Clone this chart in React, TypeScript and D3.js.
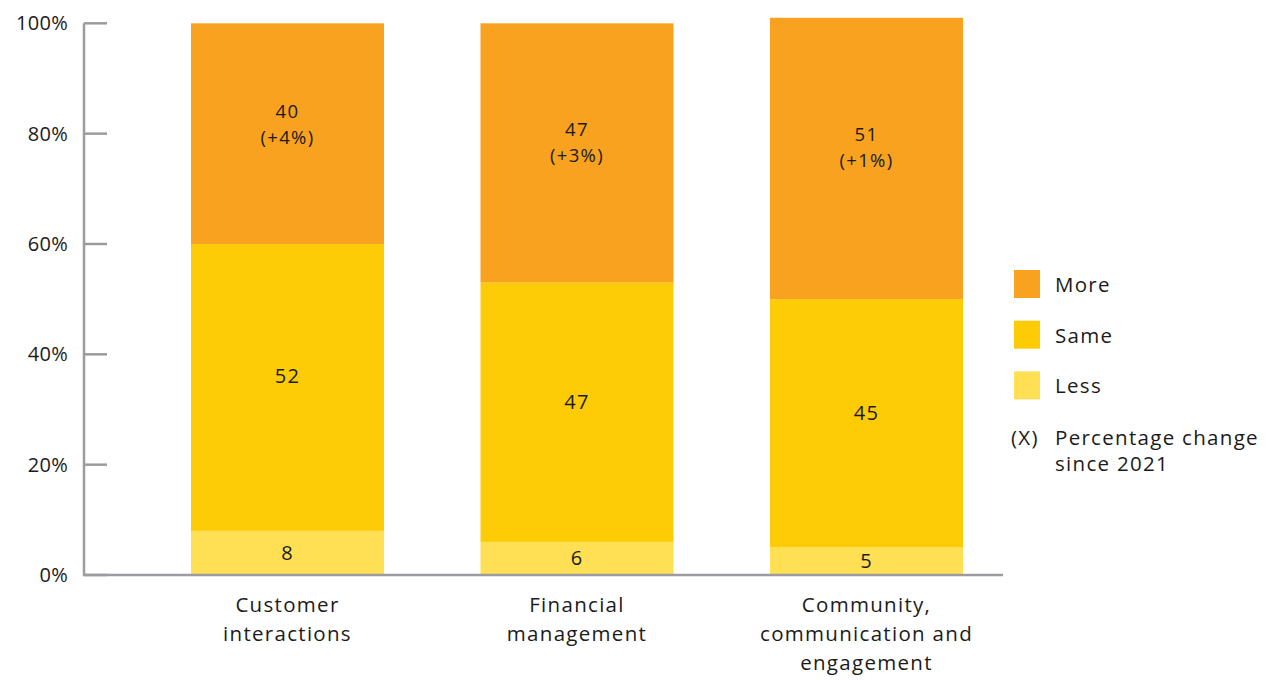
import * as d3 from 'd3'

const categories = [
  ['Customer', 'interactions'],
  ['Financial', 'management'],
  ['Community,', 'communication and', 'engagement'],
]
const lessValues = [8, 6, 5]
const sameValues = [52, 47, 45]
const moreValues = [40, 47, 51]
const moreChange = ['+4%', '+3%', '+1%']
const yTicks = [0, 20, 40, 60, 80, 100]
const seriesNames = ['More', 'Same', 'Less']

const colors: Record<string, string> = {
  More: '#F8A21F',
  Same: '#FECB07',
  Less: '#FFE055',
}

const W = 1272
const H = 680
const FONT = "'Open Sans', 'Noto Sans', sans-serif"
const TEXT = '#1b1b1b'
const AXIS = '#9c9ca0'
const LS = 1.3

export default function App() {
  const y = d3.scaleLinear().domain([0, 100]).range([575, 23.3])
  const x = d3
    .scaleBand<number>()
    .domain(d3.range(categories.length))
    .range([94.5, 1059.5])
    .paddingInner(1 / 3)
    .paddingOuter(1 / 3)

  const rows = categories.map((_, i) => ({ Less: lessValues[i], Same: sameValues[i], More: moreValues[i] }))
  const stacked = d3.stack<any>().keys(['Less', 'Same', 'More'])(rows)

  return (
    <svg width={W} height={H} style={{ position: 'absolute', left: 0, top: 0, fontFamily: FONT }}>
      {/* bars */}
      {stacked.map(layer =>
        layer.map((seg, i) => {
          const x0 = x(i) ?? 0
          const top = y(seg[1])
          const bot = y(seg[0])
          const cx = x0 + x.bandwidth() / 2
          // labels sit a bit above the middle of the larger segments
          const cy = layer.key === 'Less' ? (top + bot) / 2 : top + (bot - top) * 0.46
          return (
            <g key={`${layer.key}-${i}`}>
              <rect x={x0} y={top} width={x.bandwidth()} height={bot - top} fill={colors[layer.key]} />
              {layer.key === 'More' ? (
                <>
                  <text x={cx} y={cy - 13} dy="0.35em" textAnchor="middle" fontSize={18.5} letterSpacing={LS} fill={TEXT}>
                    {moreValues[i]}
                  </text>
                  <text x={cx} y={cy + 13} dy="0.35em" textAnchor="middle" fontSize={18.5} letterSpacing={LS} fill={TEXT}>
                    ({moreChange[i]})
                  </text>
                </>
              ) : (
                <text x={cx} y={cy} dy="0.35em" textAnchor="middle" fontSize={20} letterSpacing={LS} fill={TEXT}>
                  {seg[1] - seg[0]}
                </text>
              )}
            </g>
          )
        })
      )}

      {/* y axis */}
      <line x1={84} x2={84} y1={y(100)} y2={y(0) + 1} stroke={AXIS} strokeWidth={2.5} />
      {yTicks.map(t => (
        <g key={t}>
          <line x1={84} x2={107} y1={y(t)} y2={y(t)} stroke={AXIS} strokeWidth={2.5} />
          <text x={68} y={y(t)} dy="0.35em" textAnchor="end" fontSize={20} letterSpacing={0.3} fill={TEXT}>
            {t}%
          </text>
        </g>
      ))}
      <line x1={83} x2={1003} y1={y(0)} y2={y(0)} stroke={AXIS} strokeWidth={2.5} />

      {/* category labels */}
      {categories.map((lines, i) => {
        const cx = (x(i) ?? 0) + x.bandwidth() / 2
        return (
          <text key={i} textAnchor="middle" fontSize={20.5} letterSpacing={LS} fill={TEXT}>
            {lines.map((l, j) => (
              <tspan key={j} x={cx} y={612 + j * 29}>{l}</tspan>
            ))}
          </text>
        )
      })}

      {/* legend */}
      {seriesNames.map((s, i) => (
        <g key={s} transform={`translate(1014, ${270 + i * 50.7})`}>
          <rect width={26} height={28} fill={colors[s]} />
          <text x={41} y={22} fontSize={20.5} letterSpacing={LS} fill={TEXT}>{s}</text>
        </g>
      ))}
      <text x={1011} y={445} fontSize={20.5} letterSpacing={LS} fill={TEXT}>(X)</text>
      <text fontSize={20.5} letterSpacing={LS} fill={TEXT}>
        <tspan x={1055} y={445}>Percentage change</tspan>
        <tspan x={1055} y={471}>since 2021</tspan>
      </text>
    </svg>
  )
}
